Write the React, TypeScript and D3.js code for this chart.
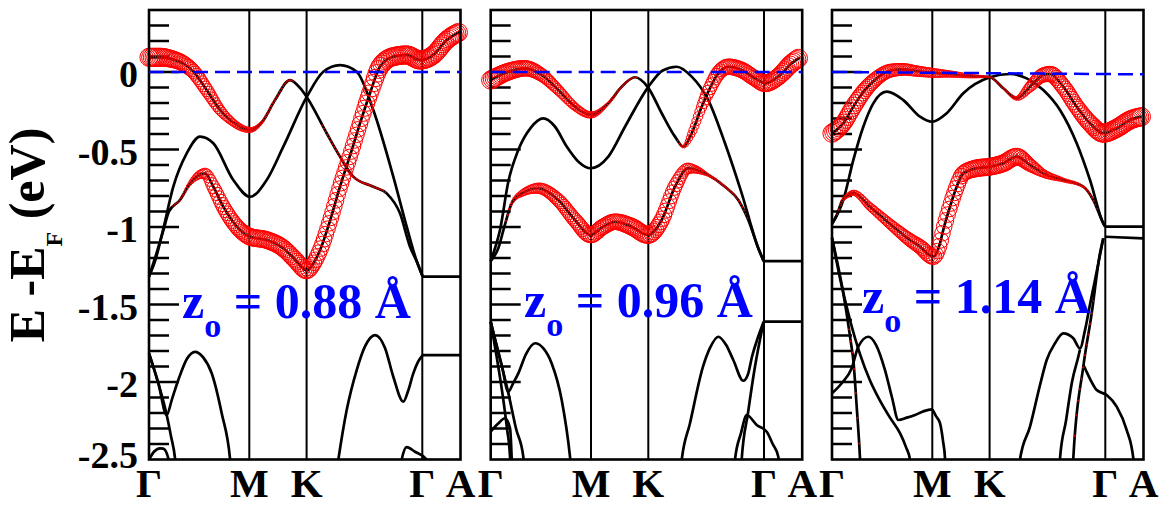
import React, { useEffect, useRef } from "react";
import * as d3 from "d3";

type Pt = [number, number];
type WPt = [number, number, number];

// ---------- axes ----------
const kSym = [0, 100.3, 157.6, 273.3, 311.5];
const kSymLabels = ["Γ", "M", "K", "Γ", "A"];
const eDomain: [number, number] = [-2.5, 0.4];
const eMajor = [0, -0.5, -1, -1.5, -2, -2.5];
const eMajorLabels = ["0", "-0.5", "-1", "-1.5", "-2", "-2.5"];
const zValues = ["0.88", "0.96", "1.14"];
const fermiEnd = [0, 0, -0.015];

// ---------- panel 1 (z0 = 0.88 Å) : [k, E, weight] ----------
const p1RedA: WPt[] = [[0,0.095,7],[12,0.095,7],[22,0.085,6.5],[34,0.056,6],[44,0.006,5.5],[57.7,-0.116,5],[71,-0.245,4],[81,-0.31,3],[101,-0.374,2],[113,-0.323,1],[126,-0.181,0.6],[141,-0.052,0.4],[151,-0.103,0.2],[157.7,-0.161,0],[177.7,-0.395,0.4],[191,-0.546,0.6],[204.3,-0.675,0.6],[224.3,-0.74,0.5],[237.7,-0.783,0.3],[251,-0.912,0],[261,-1.127,0],[268,-1.226,0],[273.7,-1.32,0]];
const p1RedC: WPt[] = [[0,-1.32,0],[7,-1.18,0],[14,-1.03,0],[20,-0.9,0.2],[31,-0.826,0.5],[41,-0.718,1.5],[56,-0.654,4],[64.3,-0.74,5],[74.3,-0.869,5.5],[91,-1.019,6],[101,-1.063,6.5],[117.7,-1.084,6.5],[134.3,-1.137,6.5],[146,-1.21,6.5],[157.7,-1.28,6.5],[164,-1.24,6],[171,-1.15,6],[181,-0.96,6],[191,-0.74,6],[201,-0.54,6],[211,-0.331,6],[221,-0.137,6.5],[231,0.034,7],[244.3,0.099,7],[257.7,0.11,7],[271,0.077,7],[284.3,0.11,7],[297.7,0.206,7],[311,0.26,7]];
const p1BandD: Pt[] = [[0,-1.32],[7,-1.2],[14,-1.02],[24.3,-0.74],[37.7,-0.525],[51,-0.417],[64.3,-0.46],[84.3,-0.697],[101,-0.805],[117.7,-0.697],[134.3,-0.482],[157.7,-0.161],[174.3,0.002],[191,0.045],[207.7,0.002],[224.3,-0.245],[244.3,-0.675],[257.7,-0.998],[268,-1.226],[273.7,-1.32]];
const p1Lower: Pt[][] = [
  [[0,-1.815],[9.3,-2.008],[17.7,-2.213],[23,-2.11],[29.3,-1.987],[38,-1.85],[46,-1.805],[54,-1.84],[62.7,-1.944],[72.7,-2.202],[81,-2.492],[82,-2.56]],
  [[0,-1.815],[9.3,-2.008],[17.7,-2.213],[22,-2.35],[26,-2.492],[27,-2.56]],
  [[0,-2.5],[5,-2.45],[11,-2.428],[14.3,-2.43],[19.3,-2.492],[20.5,-2.56]],
  [[188,-2.56],[189.3,-2.503],[197.7,-2.181],[207.7,-1.923],[216,-1.77],[226,-1.697],[236,-1.78],[244.3,-1.966],[254.3,-2.127],[259,-2.06],[264.3,-1.944],[269,-1.87],[273.7,-1.826]],
  [[251,-2.56],[252.7,-2.5],[257.7,-2.42],[266,-2.45],[277.7,-2.5],[279,-2.56]],
  [[273.7,-1.32],[311.5,-1.32]],
  [[273.7,-1.826],[311.5,-1.826]],
];

// ---------- panel 2 (z0 = 0.96 Å) ----------
const p2RedA: WPt[] = [[0,-0.052,7],[17.6,0.002,6.5],[34.3,0.024,6],[51,-0.019,5],[67.6,-0.116,4],[84.3,-0.224,3],[100,-0.277,2.5],[117.6,-0.202,1],[131,-0.095,0.6],[144.3,-0.034,0.4],[157.3,-0.099,0],[171,-0.266,0],[184.3,-0.417,0],[192.6,-0.482,1],[201,-0.395,3],[211,-0.224,4],[217.6,-0.127,5],[227.6,-0.008,5.5],[237.6,0.034,6],[251,0.013,6],[264.3,-0.041,6],[274.3,-0.073,6.5],[287.6,-0.03,6.5],[301,0.056,7],[309.3,0.095,7]];
const p2RedC: WPt[] = [[0,-1.22,0],[7.6,-1.137,0],[14,-0.99,0.3],[21,-0.847,1],[32,-0.78,2.5],[47.6,-0.75,4],[67.6,-0.826,5],[84.3,-0.955,5.5],[100,-1.052,6],[112,-1.0,6],[124.3,-0.966,6],[141,-0.998,6.5],[157.3,-1.052,6.5],[171,-0.955,6],[184.3,-0.74,5.5],[197.6,-0.621,4],[217.6,-0.665,1],[234.3,-0.74,0.6],[247.6,-0.826,0.5],[257.6,-0.955,0.3],[267.6,-1.137,0],[273,-1.22,0]];
const p2BandD: Pt[] = [[0,-1.22],[4.3,-1.137],[9.3,-1.019],[17.6,-0.708],[27.6,-0.503],[40,-0.36],[52.6,-0.299],[64,-0.35],[76,-0.48],[88,-0.58],[100,-0.621],[117.6,-0.546],[134.3,-0.353],[157.3,-0.099],[172,0.01],[186,0.034],[201,-0.03],[217.6,-0.181],[234.3,-0.46],[251,-0.783],[267.6,-1.137],[273,-1.22]];
const p2Lower: Pt[][] = [
  [[0,-1.611],[5.3,-1.75],[11.3,-1.9],[17.6,-2.063],[22.3,-2.01],[27.6,-1.944],[35.3,-1.82],[44.3,-1.75],[52.3,-1.78],[61,-1.88],[71,-2.116],[79.3,-2.482],[80.5,-2.56]],
  [[0,-1.611],[9.3,-1.85],[17.6,-2.07],[25.3,-2.3],[32.6,-2.482],[33.5,-2.56]],
  [[0,-1.611],[6.3,-1.85],[12.3,-2.1],[16.3,-2.3],[19.3,-2.482],[19.8,-2.56]],
  [[0,-2.32],[7.3,-2.27],[14.3,-2.234],[19.3,-2.299],[21,-2.5],[21.3,-2.56]],
  [[190,-2.56],[191,-2.503],[199.3,-2.266],[212.3,-1.901],[219.3,-1.78],[227.6,-1.708],[235.3,-1.76],[242.6,-1.858],[252.6,-1.992],[257.3,-1.95],[261.3,-1.837],[266.3,-1.73],[273,-1.611]],
  [[250.5,-2.56],[251,-2.5],[257.3,-2.2],[264.3,-1.9],[273,-1.611]],
  [[243.5,-2.56],[244.3,-2.5],[250.3,-2.33],[256,-2.213],[266,-2.277],[276,-2.321],[282,-2.4],[287.6,-2.482],[288.5,-2.56]],
  [[273,-1.22],[311.5,-1.22]],
  [[273,-1.611],[311.5,-1.611]],
];

// ---------- panel 3 (z0 = 1.14 Å) ----------
const p3RedA: WPt[] = [[0,-0.395,7],[11.3,-0.331,6.5],[21.3,-0.224,6.5],[33,-0.116,6],[44.7,-0.041,5.5],[58,0.008,5],[71.3,0.017,4.5],[84.7,0.006,4],[100,-0.005,3.5],[118,-0.013,2.5],[138,-0.026,1.5],[158,-0.034,0.5],[171.3,-0.105,0.5],[184.7,-0.17,1.5],[198,-0.095,4],[211.3,-0.019,5.5],[218,-0.013,6],[231.3,-0.095,6],[244.7,-0.224,6],[258,-0.331,6.5],[271.3,-0.395,7],[284.7,-0.363,7],[298,-0.31,7],[309.7,-0.288,7]];
const p3RedC: WPt[] = [[0,-0.98,0],[5,-0.92,0.3],[9.7,-0.837,1],[15,-0.8,1.5],[21.3,-0.779,2],[38,-0.869,3],[61.3,-0.998,4],[78,-1.084,5],[88,-1.127,5.5],[101.3,-1.192,6],[108,-1.105,6],[111.3,-1.019,6],[118,-0.869,6],[124.7,-0.74,6],[131.3,-0.654,6],[144.7,-0.621,6.5],[158,-0.611,6.5],[171.3,-0.589,6.5],[184.7,-0.546,6.5],[198,-0.6,5],[211.3,-0.654,3],[231.3,-0.697,1.5],[251.3,-0.74,0.8],[261.3,-0.826,0.5],[271.3,-0.976,0],[273.3,-0.998,0]];
const p3RedLeft: WPt[] = [[0,-1.07,0],[13,-1.492,0],[19,-1.75,0.5],[21.3,-1.858,0.5],[24.7,-2.159,0.5],[28,-2.492,0.5],[28.5,-2.56,0.5]];
const p3RedRight: WPt[] = [[241,-2.56,0.5],[241.3,-2.492,0.5],[251.3,-1.901,0.5],[259.7,-1.557,0.5],[268,-1.17,0],[271.3,-1.073,0]];
const p3BandD: Pt[] = [[0,-0.98],[11.3,-0.826],[21.3,-0.568],[31.3,-0.353],[41.3,-0.202],[54.7,-0.127],[71.3,-0.181],[88,-0.288],[100,-0.321],[114.7,-0.266],[131.3,-0.137],[158,-0.034],[178,-0.013],[194.7,-0.041],[211.3,-0.116],[228,-0.245],[244.7,-0.46],[258,-0.697],[271.3,-0.976],[273.3,-0.998]];
const p3Lower: Pt[][] = [
  [[0,-1.07],[8,-1.33],[18,-1.6],[28,-1.82],[38,-1.99],[48,-2.12],[58,-2.23],[68,-2.33],[74,-2.42],[78,-2.5],[79,-2.56]],
  [[0,-2.073],[9.7,-2.008],[19.7,-1.912],[26.3,-1.772],[36.3,-1.708],[44,-1.76],[53,-1.923],[60,-2.1],[66.3,-2.245],[75,-2.23],[83,-2.213],[91,-2.19],[99.7,-2.176],[104,-2.22],[108,-2.266],[111,-2.38],[113,-2.492],[113.5,-2.56]],
  [[187.5,-2.56],[188,-2.5],[198,-2.288],[208,-2.02],[214.7,-1.858],[223,-1.75],[231.3,-1.686],[241.3,-1.718],[248,-1.783],[253,-1.665],[258,-1.5],[263,-1.342],[268,-1.18],[271.3,-1.073]],
  [[227.5,-2.56],[228,-2.492],[234,-2.25],[240,-2.0],[246.3,-1.837],[248,-1.79]],
  [[251.3,-1.89],[253,-1.912],[258,-1.98],[264.7,-2.052],[274.7,-2.084],[284.7,-2.159],[294.7,-2.31],[301.3,-2.492],[302,-2.56]],
  [[273.3,-0.998],[311.5,-0.998]],
  [[273.3,-1.063],[311.5,-1.073]],
];

const panels = [
  { black: [p1BandD, ...p1Lower], red: [p1RedA, p1RedC] },
  { black: [p2BandD, ...p2Lower], red: [p2RedA, p2RedC] },
  { black: [p3BandD, ...p3Lower], red: [p3RedA, p3RedC, p3RedLeft, p3RedRight] },
];

// ---------- layout ----------
const W = 1160, H = 507;
const panelLeft = [149, 490.7, 832];
const panelW = 311.5;
const plotTop = 10, plotBottom = 459.5;
const zPos: [number, number][] = [[182, 318], [524, 317], [862, 313]];
const FONT = "'Liberation Serif', 'Times New Roman', Times, serif";
const STEP = 1.7;
const RSCALE = 1.3;

export default function App() {
  const ref = useRef<SVGSVGElement>(null);
  useEffect(() => {
    const svg = d3.select(ref.current!);
    svg.selectAll("*").remove();
    const y = d3.scaleLinear().domain(eDomain).range([plotBottom, plotTop]);
    const defs = svg.append("defs");
    const line = (x: d3.ScaleLinear<number, number>) =>
      d3.line<Pt>().x(d => x(d[0])).y(d => y(d[1])).curve(d3.curveMonotoneX);

    panels.forEach((p, i) => {
      const left = panelLeft[i];
      const x = d3.scaleLinear().domain([0, panelW]).range([left, left + panelW]);
      const lf = line(x);
      const g = svg.append("g");
      defs.append("clipPath").attr("id", `clip${i}`).append("rect")
        .attr("x", left - 20).attr("y", plotTop).attr("width", panelW + 40).attr("height", plotBottom - plotTop);

      kSym.slice(1, 4).forEach(k => {
        g.append("line").attr("x1", x(k)).attr("x2", x(k)).attr("y1", plotTop).attr("y2", plotBottom)
          .attr("stroke", "#000").attr("stroke-width", 2);
      });
      d3.range(-24, 4).forEach(j => {
        const major = j % 5 === 0;
        const e = j / 10;
        g.append("line").attr("x1", left).attr("x2", left + (major ? 30 : 20))
          .attr("y1", y(e)).attr("y2", y(e)).attr("stroke", "#000").attr("stroke-width", 2.5);
      });

      const bg = g.append("g").attr("clip-path", `url(#clip${i})`);
      const all: Pt[][] = [...p.black, ...p.red.map(b => b.map(d => [d[0], d[1]] as Pt))];
      all.forEach(b => {
        bg.append("path").attr("d", lf(b)!).attr("fill", "none").attr("stroke", "#000")
          .attr("stroke-width", 2.7).attr("stroke-linejoin", "round");
      });

      const cg = g.append("g");
      p.red.forEach(b => {
        const pts = b.map(d => [d[0], d[1]] as Pt);
        const tmp = svg.append("path").attr("d", lf(pts)!).attr("fill", "none");
        const node = tmp.node() as SVGPathElement;
        const L = node.getTotalLength();
        const xs: number[] = [], ys: number[] = [];
        for (let s = 0; s <= L; s += 0.25) {
          const q = node.getPointAtLength(s);
          xs.push(q.x); ys.push(q.y);
        }
        tmp.remove();
        const rScale = d3.scaleLinear().domain(b.map(d => d[0])).range(b.map(d => d[2])).clamp(true);
        const k0 = b[0][0], k1 = b[b.length - 1][0];
        for (let k = k0; k <= k1 + 1e-6; k += STEP) {
          const w = rScale(k);
          if (w < 0.3) continue;
          const r = w * RSCALE;
          const px = x(k);
          let idx = d3.bisectLeft(xs, px);
          idx = Math.max(1, Math.min(xs.length - 1, idx));
          const xa = xs[idx - 1], xb = xs[idx];
          const t = xb === xa ? 0 : (px - xa) / (xb - xa);
          const py = ys[idx - 1] + t * (ys[idx] - ys[idx - 1]);
          if (py > plotBottom) continue;
          cg.append("circle").attr("cx", px).attr("cy", py).attr("r", r)
            .attr("fill", "none").attr("stroke", "#ff0000").attr("stroke-width", 1);
        }
      });

      g.append("rect").attr("x", left).attr("y", plotTop).attr("width", panelW).attr("height", plotBottom - plotTop)
        .attr("fill", "none").attr("stroke", "#000").attr("stroke-width", 2.6);

      g.append("line").attr("x1", x(0)).attr("x2", x(panelW)).attr("y1", y(0)).attr("y2", y(fermiEnd[i]))
        .attr("stroke", "#0000ff").attr("stroke-width", 2.5).attr("stroke-dasharray", "15,7");

      kSym.forEach((k, j) => {
        g.append("text").attr("x", x(k)).attr("y", 497).attr("text-anchor", "middle")
          .attr("font-family", FONT).attr("font-weight", "bold").attr("font-size", 41).text(kSymLabels[j]);
      });

      const t = g.append("text").attr("x", zPos[i][0]).attr("y", zPos[i][1])
        .attr("font-family", FONT).attr("font-weight", "bold").attr("font-size", 50).attr("fill", "#0000ff")
        .style("white-space", "pre");
      t.append("tspan").text("z");
      t.append("tspan").attr("font-size", 34).attr("dy", 19).text("o");
      t.append("tspan").attr("dy", -19).text(` = ${zValues[i]} Å`);
    });

    eMajor.forEach((e, j) => {
      svg.append("text").attr("x", 138).attr("y", y(e) + (e === -2.5 ? 8 : 15)).attr("text-anchor", "end")
        .attr("font-family", FONT).attr("font-weight", "bold").attr("font-size", 38).text(eMajorLabels[j]);
    });

    const yt = svg.append("text").attr("transform", "translate(44,235) rotate(-90)").attr("text-anchor", "middle")
      .attr("font-family", FONT).attr("font-weight", "bold").attr("font-size", 50).style("white-space", "pre");
    yt.append("tspan").text("E -E");
    yt.append("tspan").attr("font-size", 24).attr("dy", 18).text("F");
    yt.append("tspan").attr("dy", -18).text(" (eV)");
  }, []);

  return (
    <svg ref={ref} width={W} height={H} style={{ position: "absolute", left: 0, top: 0, background: "#fff" }} />
  );
}
